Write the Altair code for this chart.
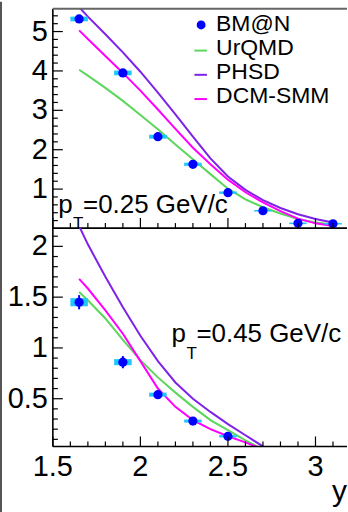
import altair as alt
import pandas as pd

FONT = "Liberation Sans"

# ---------------- data ----------------
# BM@N points, pT = 0.25 GeV/c
top_x = [1.65, 1.9, 2.1, 2.3, 2.5, 2.7, 2.9, 3.1]
top_val = [5.32, 3.95, 2.33, 1.63, 0.91, 0.45, 0.13, 0.12]
top_stat = [0.05, 0.05, 0.04, 0.03, 0.03, 0.02, 0.02, 0.02]
top_sys = [0.06, 0.06, 0.05, 0.04, 0.03, 0.02, 0.02, 0.02]

# BM@N points, pT = 0.45 GeV/c
bot_x = [1.65, 1.9, 2.1, 2.3, 2.5]
bot_val = [1.45, 0.86, 0.54, 0.28, 0.13]
bot_stat = [0.07, 0.06, 0.03, 0.02, 0.02]
bot_sys = [0.04, 0.03, 0.02, 0.015, 0.012]

# model curves, pT = 0.25 GeV/c
mtop_x = [1.65, 1.7, 1.8, 1.9, 2.0, 2.1, 2.2, 2.3, 2.4, 2.5, 2.6, 2.7, 2.8, 2.9, 3.0, 3.1]
urqmd_top = [4.03, 3.88, 3.57, 3.24, 2.88, 2.52, 2.13, 1.76, 1.38, 1.01, 0.74, 0.54, 0.38, 0.24, 0.15, 0.10]
phsd_top = [5.62, 5.38, 4.93, 4.47, 3.98, 3.45, 2.90, 2.33, 1.78, 1.32, 0.98, 0.72, 0.52, 0.36, 0.24, 0.15]
dcm_top = [5.03, 4.81, 4.38, 3.95, 3.50, 3.02, 2.53, 2.05, 1.63, 1.24, 0.92, 0.66, 0.44, 0.25, 0.13, 0.06]

# model curves, pT = 0.45 GeV/c
mbot_x = [1.65, 1.7, 1.8, 1.9, 2.0, 2.1, 2.2, 2.3, 2.4, 2.5, 2.6, 2.7]
urqmd_bot = [1.55, 1.47, 1.29, 1.08, 0.88, 0.71, 0.56, 0.42, 0.29, 0.19, 0.09, 0.0]
phsd_bot = [2.20, 2.02, 1.70, 1.40, 1.12, 0.87, 0.66, 0.50, 0.37, 0.25, 0.14, 0.03]
dcm_bot = [1.68, 1.585, 1.37, 1.14, 0.87, 0.60, 0.42, 0.29, 0.20, 0.13, 0.07, 0.0]

models = ["UrQMD", "PHSD", "DCM-SMM"]
model_colors = ["#5cd65c", "#7f22e8", "#ff00ff"]
legend_names = ["BM@N", "UrQMD", "PHSD", "DCM-SMM"]
pt_texts = ["=0.25 GeV/c", "=0.45 GeV/c"]
x_title = "y"

x_major = [1.5, 2.0, 2.5, 3.0]
x_major_labels = ["1.5", "2", "2.5", "3"]
x_minor = [1.6, 1.7, 1.8, 1.9, 2.1, 2.2, 2.3, 2.4, 2.6, 2.7, 2.8, 2.9, 3.1]
ytop_major = [1, 2, 3, 4, 5]
ytop_labels = ["1", "2", "3", "4", "5"]
ytop_minor = [0.2, 0.4, 0.6, 0.8, 1.2, 1.4, 1.6, 1.8, 2.2, 2.4, 2.6, 2.8, 3.2, 3.4, 3.6, 3.8,
              4.2, 4.4, 4.6, 4.8, 5.2, 5.4]
ybot_major = [0.5, 1.0, 1.5, 2.0]
ybot_labels = ["0.5", "1", "1.5", "2"]
ybot_minor = [0.1, 0.2, 0.3, 0.4, 0.6, 0.7, 0.8, 0.9, 1.1, 1.2, 1.3, 1.4, 1.6, 1.7, 1.8, 1.9, 2.1]

BLUE = "#0000ff"
CYAN = "#1ec8ff"

W = 295
H1 = 220
H2 = 219

xscale = alt.Scale(domain=[1.5, 3.18], nice=False, zero=False)
yscale_top = alt.Scale(domain=[0.01, 5.58], nice=False, zero=False)
yscale_bot = alt.Scale(domain=[0.03, 2.18], nice=False, zero=False)

one = pd.DataFrame({"a": [0]})


def panel(mx, curves, px, pv, pstat, psys, yscale, H, ymaj, ylab, ymin, bottom, pt_text, pt_pos,
          legend, line_top):
    layers = []
    # model curves
    for name, col, vals in zip(models, model_colors, curves):
        df = pd.DataFrame({"x": mx, "v": vals})
        layers.append(alt.Chart(df).mark_line(color=col, strokeWidth=2, clip=True).encode(
            x=alt.X("x:Q", scale=xscale, axis=None),
            y=alt.Y("v:Q", scale=yscale, axis=None)))
    # data points
    pdf = pd.DataFrame({"x": px, "v": pv,
                        "lo": [v - e for v, e in zip(pv, pstat)],
                        "hi": [v + e for v, e in zip(pv, pstat)],
                        "slo": [v - e for v, e in zip(pv, psys)],
                        "shi": [v + e for v, e in zip(pv, psys)],
                        "xl": [x - 0.05 for x in px],
                        "xr": [x + 0.05 for x in px]})
    layers.append(alt.Chart(pdf).mark_rect(color=CYAN).encode(
        x=alt.X("xl:Q", scale=xscale, axis=None), x2="xr:Q",
        y=alt.Y("slo:Q", scale=yscale, axis=None), y2="shi:Q"))
    layers.append(alt.Chart(pdf).mark_rule(color=BLUE, strokeWidth=2).encode(
        x=alt.X("x:Q", scale=xscale, axis=None),
        y=alt.Y("lo:Q", scale=yscale, axis=None), y2="hi:Q"))
    layers.append(alt.Chart(pdf).mark_point(filled=True, shape="circle", size=85, color=BLUE,
                                            opacity=1).encode(
        x=alt.X("x:Q", scale=xscale, axis=None),
        y=alt.Y("v:Q", scale=yscale, axis=None)))
    # frame lines (left and bottom axis lines)
    layers.append(alt.Chart(one).mark_rule(color="black", strokeWidth=1.6).encode(
        x=alt.value(0), y=alt.value(0), y2=alt.value(H)))
    layers.append(alt.Chart(one).mark_rule(color="black", strokeWidth=1.6).encode(
        x=alt.value(0), x2=alt.value(W), y=alt.value(H)))
    # inside ticks
    for vals, ln in ((ymaj, 10), (ymin, 5)):
        layers.append(alt.Chart(pd.DataFrame({"t": vals})).mark_rule(color="black", strokeWidth=1.2)
                      .encode(y=alt.Y("t:Q", scale=yscale, axis=None),
                              x=alt.value(0), x2=alt.value(ln)))
    for vals, ln in ((x_major, 10), (x_minor, 5)):
        layers.append(alt.Chart(pd.DataFrame({"t": vals})).mark_rule(color="black", strokeWidth=1.2)
                      .encode(x=alt.X("t:Q", scale=xscale, axis=None),
                              y=alt.value(H), y2=alt.value(H - ln)))
    # y tick labels
    layers.append(alt.Chart(pd.DataFrame({"t": ymaj, "lab": ylab})).mark_text(
        align="right", baseline="middle", font=FONT, fontSize=29, color="black").encode(
        y=alt.Y("t:Q", scale=yscale, axis=None), x=alt.value(-5), text="lab:N"))
    if bottom:
        layers.append(alt.Chart(pd.DataFrame({"t": x_major, "lab": x_major_labels})).mark_text(
            align="center", baseline="alphabetic", font=FONT, fontSize=29, color="black").encode(
            x=alt.X("t:Q", scale=xscale, axis=None), y=alt.value(H + 29.5), text="lab:N"))
        layers.append(alt.Chart(pd.DataFrame({"s": [x_title]})).mark_text(
            align="right", baseline="alphabetic", font=FONT, fontSize=30, color="black").encode(
            x=alt.value(W), y=alt.value(H + 55), text="s:N"))
    # pT label
    px0, py0 = pt_pos
    for txt, dx, dy, fs in (("p", 0, 0, 26), ("T", 15, 16.5, 17), (pt_text, 25, 0, 26)):
        layers.append(alt.Chart(pd.DataFrame({"s": [txt]})).mark_text(
            align="left", baseline="alphabetic", font=FONT, fontSize=fs, color="black").encode(
            x=alt.value(px0 + dx), y=alt.value(py0 + dy), text="s:N"))
    # outer decorations
    layers.append(alt.Chart(one).mark_rule(color="#555555", strokeWidth=2).encode(
        x=alt.value(-52), y=alt.value(line_top[0]), y2=alt.value(line_top[1])))
    if legend:
        layers.append(alt.Chart(one).mark_rule(color="#666666", strokeWidth=2).encode(
            x=alt.value(0), x2=alt.value(W), y=alt.value(0)))
        for i, name in enumerate(legend_names):
            base = 22 + 24.3 * i
            if i == 0:
                layers.append(alt.Chart(one).mark_point(filled=True, shape="circle", size=80,
                                                        color=BLUE, opacity=1).encode(
                    x=alt.value(148.7), y=alt.value(base - 5.7)))
            else:
                layers.append(alt.Chart(one).mark_rule(color=model_colors[i - 1], strokeWidth=2)
                              .encode(x=alt.value(142), x2=alt.value(154.5),
                                      y=alt.value(base - 4.3)))
            layers.append(alt.Chart(pd.DataFrame({"s": [name]})).mark_text(
                align="left", baseline="alphabetic", font=FONT, fontSize=23, color="black").encode(
                x=alt.value(163.7), y=alt.value(base), text="s:N"))
    return alt.layer(*layers).properties(width=W, height=H)


top = panel(mtop_x, [urqmd_top, phsd_top, dcm_top], top_x, top_val, top_stat, top_sys,
            yscale_top, H1, ytop_major, ytop_labels, ytop_minor, False, pt_texts[0],
            (5.3, 204.7), True, (-7, H1))
bottom = panel(mbot_x, [urqmd_bot, phsd_bot, dcm_bot], bot_x, bot_val, bot_stat, bot_sys,
               yscale_bot, H2, ybot_major, ybot_labels, ybot_minor, True, pt_texts[1],
               (119, 114.7), False, (0, 285))

chart = alt.vconcat(top, bottom, spacing=0, bounds="flush").properties(
    padding={"left": 0, "top": 0, "right": 0, "bottom": 0}
).configure_view(stroke=None)

chart.save("out.html", embed_options={"renderer": "svg", "actions": False})
